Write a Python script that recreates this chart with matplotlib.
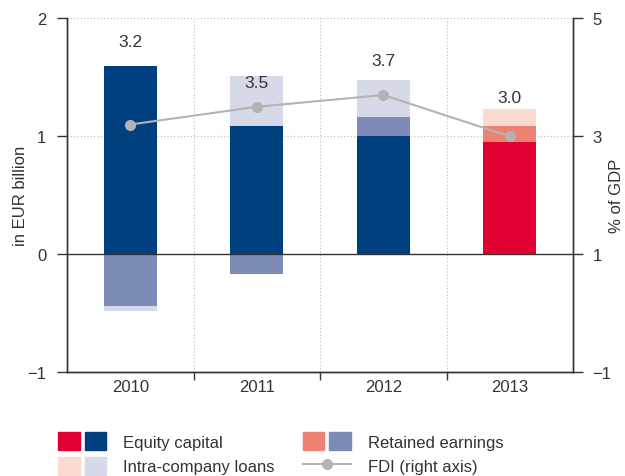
import matplotlib
matplotlib.use("Agg")
import matplotlib.pyplot as plt
from matplotlib.patches import Patch
from matplotlib.lines import Line2D
from matplotlib.legend_handler import HandlerTuple
import numpy as np

plt.rcParams["font.family"] = ["Liberation Sans", "DejaVu Sans"]
plt.rcParams["text.color"] = "#333333"

# ---------- data ----------
years = ["2010", "2011", "2012", "2013"]
equity = [1.60, 1.09, 1.00, 0.95]
retained = [-0.44, -0.17, 0.16, 0.14]
loans = [-0.04, 0.42, 0.32, 0.14]
fdi_gdp = [3.2, 3.5, 3.7, 3.0]
fdi_labels = ["3.2", "3.5", "3.7", "3.0"]

# colours: blue set for 2010-2012, red set for 2013
c_equity = ["#003F7D", "#003F7D", "#003F7D", "#E10032"]
c_retained = ["#7D8BB7", "#7D8BB7", "#7D8BB7", "#EE8272"]
c_loans = ["#D6DAE8", "#D6DAE8", "#D6DAE8", "#FADAD0"]
label_y = [1.80, 1.46, 1.645, 1.33]

DARK = "#333333"
GREY = "#B3B3B3"
FS = 12

fig = plt.figure(figsize=(6.25, 4.77), dpi=100)
ax = fig.add_axes([0.1072, 0.2174, 0.8096, 0.7421])
ax2 = ax.twinx()

x = np.arange(len(years)) + 0.5
w = 0.42

# stack positives and negatives separately
pos_base = np.zeros(len(years))
neg_base = np.zeros(len(years))
for vals, cols in [(equity, c_equity), (retained, c_retained), (loans, c_loans)]:
    vals = np.array(vals)
    bottoms = np.where(vals >= 0, pos_base, neg_base)
    ax.bar(x, vals, width=w, bottom=bottoms, color=cols, linewidth=0, zorder=3)
    pos_base = pos_base + np.where(vals >= 0, vals, 0)
    neg_base = neg_base + np.where(vals < 0, vals, 0)

for xi, yi, t in zip(x, label_y, fdi_labels):
    ax.text(xi, yi, t, ha="center", va="center", fontsize=12.5, color=DARK, zorder=6)

ax2.plot(x, fdi_gdp, color=GREY, linewidth=1.5, marker="o", markersize=8,
         markeredgewidth=0, zorder=5)

# axes
ax.set_xlim(0, 4)
ax.set_ylim(-1, 2)
ax.set_yticks([-1, 0, 1, 2])
ax2.set_ylim(-1, 5)
ax2.set_yticks([-1, 1, 3, 5])

ax.set_xticks(x)
ax.set_xticklabels(years)
ax.set_xticks([1, 2, 3], minor=True)
ax.tick_params(axis="x", which="major", length=0, pad=5, labelsize=FS, labelcolor=DARK)
ax.tick_params(axis="x", which="minor", length=6, width=1, color=DARK)
ax.tick_params(axis="y", length=7, width=1, color=DARK, pad=8, labelsize=FS, labelcolor=DARK)
ax2.tick_params(axis="y", length=7, width=1, color=DARK, pad=7, labelsize=FS, labelcolor=DARK)

for a in (ax, ax2):
    a.spines["top"].set_visible(False)
    for s in ("left", "right", "bottom"):
        a.spines[s].set_color(DARK)
        a.spines[s].set_linewidth(1)

ax.axhline(0, color=DARK, linewidth=1, zorder=4)
for gy in (1, 2):
    ax.axhline(gy, color="#BBBBBB", linewidth=0.8, linestyle=(0, (1, 2)), zorder=1)
for gx in (1, 2, 3):
    ax.axvline(gx, color="#BBBBBB", linewidth=0.8, linestyle=(0, (1, 2)), zorder=1)

ax.set_ylabel("in EUR billion", fontsize=FS, color=DARK)
ax2.set_ylabel("% of GDP", fontsize=FS, color=DARK)
ax.yaxis.set_label_coords(-0.077, 0.5)
ax2.yaxis.set_label_coords(1.071, 0.5)

ax2.patch.set_visible(False)

# legend
handles = [
    (Patch(color="#E10032"), Patch(color="#003F7D")),
    (Patch(color="#FADAD0"), Patch(color="#D6DAE8")),
    (Patch(color="#EE8272"), Patch(color="#7D8BB7")),
    Line2D([], [], color=GREY, linewidth=1.5, marker="o", markersize=8, markeredgewidth=0),
]
labels = ["Equity capital", "Intra-company loans", "Retained earnings", "FDI (right axis)"]
fig.legend(handles, labels, ncol=2, loc="upper left", bbox_to_anchor=(0.080, 0.11),
           frameon=False, fontsize=FS, handlelength=2.85, handleheight=1.3,
           handletextpad=1.05, labelspacing=0.4, columnspacing=1.7, borderpad=0,
           handler_map={tuple: HandlerTuple(ndivide=None, pad=0.3)})

fig.savefig("out.png", dpi=100)
